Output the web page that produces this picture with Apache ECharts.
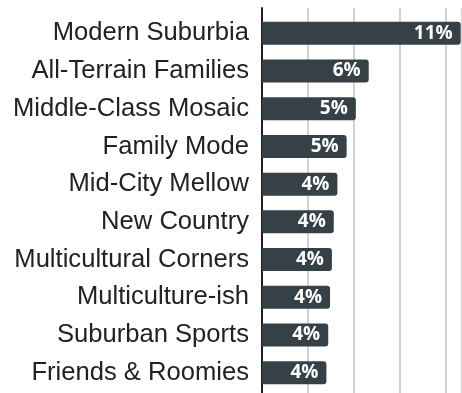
<!DOCTYPE html>
<html>
<head>
<meta charset="utf-8">
<script src="https://cdn.jsdelivr.net/npm/echarts@6/dist/echarts.min.js"></script>
<style>
  html, body { margin: 0; padding: 0; background: #fff; }
  #chart { width: 462px; height: 393px; }
</style>
</head>
<body>
<div id="chart"></div>
<script>
// Segment names, top to bottom
const segments = [
  'Modern Suburbia',
  'All-Terrain Families',
  'Middle-Class Mosaic',
  'Family Mode',
  'Mid-City Mellow',
  'New Country',
  'Multicultural Corners',
  'Multiculture-ish',
  'Suburban Sports',
  'Friends & Roomies'
];
// Share of households, percent
const shares = [10.8, 5.8, 5.1, 4.6, 4.1, 3.9, 3.8, 3.7, 3.6, 3.5];

const barColor = '#364147';
const xMax = 10.87;

const chart = echarts.init(document.getElementById('chart'));
chart.setOption({
  animation: false,
  grid: [
    // backdrop: gridlines and baseline running the full height
    { left: 262, right: 0, top: 8, bottom: 0 },
    // bars
    { left: 262, right: 0, top: 14.5, bottom: 1.5 }
  ],
  xAxis: [
    {
      gridIndex: 0, type: 'value', min: 0, max: xMax, interval: 2.5,
      axisLabel: { show: false }, axisLine: { show: false }, axisTick: { show: false },
      splitLine: { lineStyle: { color: '#d2d2d2', width: 2 } }
    },
    {
      gridIndex: 1, type: 'value', min: 0, max: xMax, interval: 2.5,
      axisLabel: { show: false }, axisLine: { show: false }, axisTick: { show: false },
      splitLine: { show: false }
    }
  ],
  yAxis: [
    {
      gridIndex: 0, type: 'value', min: 0, max: 1,
      axisLabel: { show: false }, axisTick: { show: false }, splitLine: { show: false },
      axisLine: { show: true, lineStyle: { color: '#1f1f1f', width: 2 } }
    },
    {
      gridIndex: 1, type: 'category', inverse: true, data: segments,
      axisTick: { show: false },
      axisLine: { show: false },
      axisLabel: {
        color: '#222',
        fontFamily: 'Liberation Sans, Arial, sans-serif',
        fontSize: 25.6,
        margin: 13
      }
    }
  ],
  series: [{
    type: 'bar',
    xAxisIndex: 1,
    yAxisIndex: 1,
    data: shares,
    barCategoryGap: '39%',
    itemStyle: { color: barColor, borderRadius: [0, 3, 3, 0] },
    label: {
      show: true,
      position: 'insideRight',
      distance: 8,
      color: '#fff',
      fontFamily: 'Open Sans, sans-serif',
      fontWeight: 'bold',
      fontSize: 19,
      textBorderColor: barColor,
      textBorderWidth: 2,
      formatter: p => Math.round(p.value) + '%'
    }
  }]
});
</script>
</body>
</html>
